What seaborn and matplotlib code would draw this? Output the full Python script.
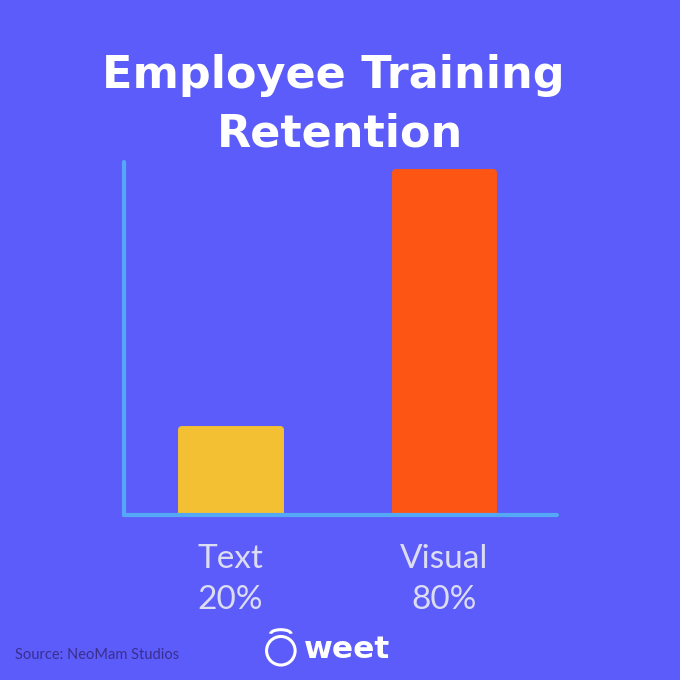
import seaborn as sns
import matplotlib.pyplot as plt
import pandas as pd
from matplotlib.patches import Arc

categories = ['Text', 'Visual']
retention = [20, 80]
labels = ['Text\n20%', 'Visual\n80%']
colors = ['#F3C033', '#FD5513']

bg = '#5B5CF9'
axis_blue = '#55A8F5'

df = pd.DataFrame({'kind': categories, 'retention': retention})

sns.set_theme(style='white')
plt.rcParams['font.family'] = ['Lato', 'DejaVu Sans']

fig = plt.figure(figsize=(6.8, 6.8), dpi=100, facecolor=bg)
ax = fig.add_axes([0.182, 0.243, 0.637, 0.519])
ax.set_facecolor(bg)

sns.barplot(data=df, x='kind', y='retention', hue='kind', palette=colors,
            width=0.46, legend=False, ax=ax, saturation=1)

# fake rounded corners with a thick same-colour edge
for bar, c in zip(ax.patches, colors):
    bar.set_edgecolor(c)
    bar.set_linewidth(5)
    bar.set_joinstyle('round')

ax.set_xlim(-0.5, 1.53)
ax.set_ylim(0, 82.3)
ax.set_xlabel('')
ax.set_ylabel('')
ax.set_xticks([0, 1])
ax.set_xticklabels(labels, color='#DCDCF2', fontsize=24, fontweight='normal',
                   linespacing=1.45)
ax.tick_params(axis='x', length=0, pad=21)
ax.set_yticks([])

for s in ['top', 'right']:
    ax.spines[s].set_visible(False)
for s in ['left', 'bottom']:
    ax.spines[s].set_color(axis_blue)
    ax.spines[s].set_linewidth(3)
    ax.spines[s].set_capstyle('round')
    ax.spines[s].set_zorder(5)

title_font = dict(ha='center', va='center', fontsize=32, fontweight='bold',
                  color='white', family='DejaVu Sans')
fig.text(0.49, 0.889, 'Employee Training', **title_font)
fig.text(0.50, 0.803, 'Retention', **title_font)

fig.text(0.022, 0.037, 'Source: NeoMam Studios', ha='left', va='center',
         fontsize=10.5, color='#3A2F8F')
fig.text(0.447, 0.045, 'weet', ha='left', va='center',
         fontsize=22.5, fontweight='bold', color='white', family='DejaVu Sans')
# little logo mark next to the word
logo = plt.Circle((0.413, 0.043), 0.021, transform=fig.transFigure,
                  fill=False, color='white', lw=2.2)
fig.add_artist(logo)
fig.add_artist(Arc((0.413, 0.068), 0.03, 0.012, theta1=0, theta2=180,
                   transform=fig.transFigure, color='white', lw=2.2))

fig.savefig('out.png', dpi=100, facecolor=bg)
